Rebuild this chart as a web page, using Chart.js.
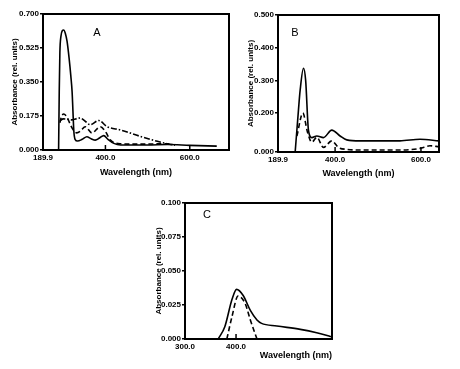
<!DOCTYPE html>
<html lang="en">
<head>
  <meta charset="UTF-8">
  <title>Absorbance spectra A, B, C</title>
  <script src="https://cdn.jsdelivr.net/npm/chart.js"></script>
  <style>
    body { margin: 0; background: #fff; }
    #wrap { position: relative; width: 460px; height: 369px; background: #fff; }
    canvas { position: absolute; }
  </style>
</head>
<body>
  <div id="wrap">
    <canvas id="chartA" width="240" height="185" style="left:0;top:0"></canvas>
    <canvas id="chartB" width="230" height="185" style="left:230px;top:0"></canvas>
    <canvas id="chartC" width="210" height="179" style="left:130px;top:190px"></canvas>
  </div>

  <script>
    // ---- panel A ----
    const nmA1  = [289, 290.5, 292, 294.5, 298, 301, 305, 309, 314, 318, 321, 323, 325, 328, 334, 345, 356, 366, 376, 386, 396, 406, 420, 436, 500, 547, 600, 664];
    const absA1 = [0, 0.30, 0.50, 0.585, 0.615, 0.618, 0.60, 0.56, 0.47, 0.38, 0.30, 0.20, 0.10, 0.055, 0.046, 0.055, 0.068, 0.058, 0.051, 0.062, 0.074, 0.055, 0.034, 0.026, 0.026, 0.028, 0.024, 0.02];
    const nmA2  = [292, 296, 301, 306, 312, 318, 325, 332, 342, 352, 368, 388, 400, 412, 436, 480, 547, 560];
    const absA2 = [0.14, 0.172, 0.185, 0.178, 0.155, 0.125, 0.10, 0.088, 0.10, 0.12, 0.088, 0.12, 0.095, 0.051, 0.032, 0.03, 0.032, 0.028];
    const nmA3  = [292, 300, 310, 320, 329, 340, 352, 364, 384, 404, 436, 483, 523, 547, 565];
    const absA3 = [0.15, 0.16, 0.158, 0.155, 0.16, 0.165, 0.148, 0.13, 0.152, 0.12, 0.103, 0.07, 0.045, 0.032, 0.025];
    const xTicksA = [252, 400, 600];
    const xLabelsA = ['189.9', '400.0', '600.0'];
    const yTicksA = [0, 0.175, 0.35, 0.525, 0.7];
    const yLabelsA = ['0.000', '0.175', '0.350', '0.525', '0.700'];

    // ---- panel B ----
    const nmB1  = [307, 314.7, 318.6, 326.3, 331.4, 337.9, 345.8, 357.4, 372.8, 392.3, 411.6, 427.2, 458, 551, 597.7, 641.9];
    const absB1 = [0.081, 0.21, 0.27, 0.337, 0.30, 0.148, 0.125, 0.13, 0.125, 0.148, 0.13, 0.118, 0.115, 0.115, 0.12, 0.115];
    const nmB2  = [311, 324.9, 335.6, 345.8, 357.4, 372.8, 392.3, 407.7, 427.2, 458, 551, 597.7, 621, 642];
    const absB2 = [0.13, 0.2, 0.142, 0.111, 0.126, 0.095, 0.115, 0.095, 0.089, 0.087, 0.087, 0.092, 0.1, 0.097];
    const xTicksB = [267, 400, 600];
    const xLabelsB = ['189.9', '400.0', '600.0'];
    const yTicksB = [0.081, 0.2, 0.3, 0.4, 0.5];
    const yLabelsB = ['0.000', '0.200', '0.300', '0.400', '0.500'];

    // ---- panel C ----
    const nmC1  = [365, 378, 392, 401, 414, 428, 441, 450, 480, 526, 558, 586];
    const absC1 = [0, 0.009, 0.029, 0.0365, 0.032, 0.021, 0.014, 0.0115, 0.0096, 0.0071, 0.0046, 0.0017];
    const nmC2  = [382, 392, 404, 418, 428, 441];
    const absC2 = [0, 0.0164, 0.0316, 0.026, 0.014, 0];
    const xTicksC = [300, 400];
    const xLabelsC = ['300.0', '400.0'];
    const yTicksC = [0, 0.025, 0.05, 0.075, 0.1];
    const yLabelsC = ['0.000', '0.025', '0.050', '0.075', '0.100'];

    const FONT = 'Liberation Sans, Arial, sans-serif';
    const SOLID = [], DASH = [5, 3], DASHDOT = [6, 2, 1.5, 2];

    function series(nm, abs, dash) {
      return {
        data: nm.map((v, i) => ({ x: v, y: abs[i] })),
        borderColor: '#000', borderWidth: 1.6, borderDash: dash,
        pointRadius: 0, fill: false, tension: 0.4, cubicInterpolationMode: 'monotone'
      };
    }

    // box frame, short inner x ticks and panel letter
    const framePlugin = {
      id: 'frame',
      afterDraw(chart, args, o) {
        const { ctx, chartArea: a } = chart;
        const x = chart.scales.x;
        ctx.save();
        ctx.strokeStyle = '#000';
        ctx.lineWidth = 2;
        ctx.strokeRect(a.left, a.top, a.right - a.left, a.bottom - a.top);
        ctx.lineWidth = 1.5;
        o.inTicks.forEach(v => {
          const px = x.getPixelForValue(v);
          ctx.beginPath(); ctx.moveTo(px, a.bottom); ctx.lineTo(px, a.bottom - 5); ctx.stroke();
        });
        ctx.fillStyle = '#000';
        ctx.font = '11px ' + FONT;
        ctx.textAlign = 'center'; ctx.textBaseline = 'middle';
        ctx.fillText(o.letter, a.left + o.dx, a.top + o.dy);
        ctx.restore();
      }
    };

    function makeChart(id, p) {
      const tickFont = { family: FONT, size: 8, weight: 'bold' };
      const titleFont = { family: FONT, size: 9, weight: 'bold' };
      new Chart(document.getElementById(id), {
        type: 'line',
        data: { datasets: p.sets },
        plugins: [framePlugin],
        options: {
          responsive: false, animation: false, devicePixelRatio: 1,
          layout: { padding: p.pad },
          plugins: { legend: { display: false }, tooltip: { enabled: false },
                     frame: { inTicks: p.inTicks, letter: p.letter, dx: p.dx, dy: p.dy } },
          scales: {
            x: {
              type: 'linear', min: p.xMin, max: p.xMax,
              afterBuildTicks: s => { s.ticks = p.xTicks.map(v => ({ value: v })); },
              afterFit: s => { s.height = p.xH; },
              grid: { display: false, drawTicks: false }, border: { display: false },
              ticks: { autoSkip: false, maxRotation: 0, padding: 3, color: '#000', font: tickFont,
                       callback: (v, i) => p.xLabels[i] },
              title: { display: true, text: 'Wavelength (nm)', color: '#000', align: p.xAlign,
                       font: titleFont, padding: { bottom: p.xTitlePad } }
            },
            y: {
              type: 'linear', min: p.yMin, max: p.yMax,
              afterBuildTicks: s => { s.ticks = p.yTicks.map(v => ({ value: v })); },
              afterFit: s => { s.width = p.yW; },
              grid: { display: true, drawOnChartArea: false, drawTicks: true, tickLength: 3,
                      color: '#000', lineWidth: 1.5 },
              border: { display: false },
              ticks: { autoSkip: false, padding: 1, color: '#000', font: tickFont,
                       callback: (v, i) => p.yLabels[i] },
              title: { display: true, text: 'Absorbance (rel. units)', color: '#000',
                       font: tickFont, padding: { top: p.yTitlePad } }
            }
          }
        }
      });
    }

    makeChart('chartA', {
      sets: [series(nmA1, absA1, SOLID), series(nmA2, absA2, DASH), series(nmA3, absA3, DASHDOT)],
      xMin: 252, xMax: 693, yMin: 0, yMax: 0.7,
      xTicks: xTicksA, xLabels: xLabelsA, yTicks: yTicksA, yLabels: yLabelsA,
      pad: { top: 14, right: 11, left: 0, bottom: 0 }, yW: 43, xH: 35,
      xTitlePad: 7, yTitlePad: 10, xAlign: 'center',
      inTicks: [400, 600], letter: 'A', dx: 54, dy: 19
    });

    makeChart('chartB', {
      sets: [series(nmB1, absB1, SOLID), series(nmB2, absB2, DASH)],
      xMin: 267, xMax: 642, yMin: 0.081, yMax: 0.5,
      xTicks: xTicksB, xLabels: xLabelsB, yTicks: yTicksB, yLabels: yLabelsB,
      pad: { top: 15, right: 21, left: 0, bottom: 0 }, yW: 48, xH: 33,
      xTitlePad: 6, yTitlePad: 16, xAlign: 'center',
      inTicks: [400, 600], letter: 'B', dx: 17, dy: 18
    });

    makeChart('chartC', {
      sets: [series(nmC1, absC1, SOLID), series(nmC2, absC2, DASH)],
      xMin: 300, xMax: 588, yMin: 0, yMax: 0.1,
      xTicks: xTicksC, xLabels: xLabelsC, yTicks: yTicksC, yLabels: yLabelsC,
      pad: { top: 13, right: 8, left: 0, bottom: 0 }, yW: 55, xH: 30,
      xTitlePad: 8, yTitlePad: 24, xAlign: 'end',
      inTicks: [400], letter: 'C', dx: 22, dy: 12
    });
  </script>
</body>
</html>
